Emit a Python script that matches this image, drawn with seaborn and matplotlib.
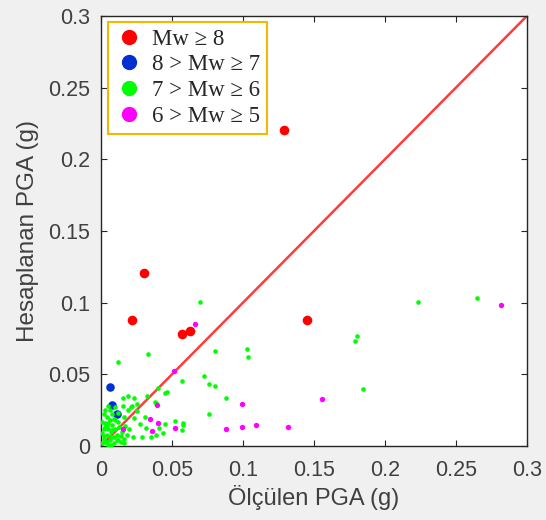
import matplotlib
matplotlib.use("Agg")
import matplotlib.pyplot as plt
import seaborn as sns
import pandas as pd
from matplotlib.lines import Line2D

# ---- data ----
red_x = [0.129, 0.030, 0.022, 0.145, 0.057, 0.0627]
red_y = [0.2205, 0.121, 0.088, 0.088, 0.078, 0.080]

blue_x = [0.0063, 0.0077, 0.011]
blue_y = [0.041, 0.0285, 0.022]

green_x = [0.223, 0.265, 0.180, 0.179, 0.103, 0.1035, 0.1845, 0.088, 0.057, 0.0725,
           0.076, 0.080, 0.076, 0.058, 0.057, 0.0697, 0.033, 0.012, 0.080,
           0.0465, 0.045, 0.040, 0.0324, 0.038, 0.039, 0.019, 0.023, 0.0155, 0.025,
           0.021, 0.052, 0.045, 0.058, 0.041, 0.035, 0.029, 0.0225, 0.016, 0.032,
           0.0275, 0.023, 0.031, 0.025, 0.019, 0.016, 0.005, 0.0155, 0.022, 0.039,
           0.044, 0.012, 0.010,
           0.001, 0.002, 0.003, 0.004, 0.005, 0.006, 0.007, 0.008, 0.009, 0.010,
           0.002, 0.003, 0.001, 0.004, 0.006, 0.008, 0.011, 0.013, 0.014, 0.012,
           0.002, 0.005, 0.009, 0.015, 0.017, 0.018, 0.020, 0.006, 0.003, 0.001,
           0.010, 0.007, 0.012, 0.004, 0.014, 0.016, 0.002, 0.004, 0.007, 0.009,
           0.011, 0.005, 0.008, 0.003]
green_y = [0.1005, 0.103, 0.077, 0.073, 0.068, 0.062, 0.040, 0.0335, 0.045, 0.049,
           0.043, 0.042, 0.022, 0.015, 0.011, 0.1005, 0.064, 0.0585, 0.066,
           0.038, 0.037, 0.0405, 0.035, 0.031, 0.030, 0.035, 0.0335, 0.0335, 0.029,
           0.027, 0.0175, 0.0155, 0.016, 0.0125, 0.0063, 0.0063, 0.0063, 0.005, 0.0125,
           0.0155, 0.0195, 0.020, 0.0245, 0.025, 0.020, 0.028, 0.028, 0.028, 0.008,
           0.009, 0.023, 0.018,
           0.002, 0.005, 0.003, 0.008, 0.012, 0.004, 0.010, 0.015, 0.006, 0.012,
           0.012, 0.016, 0.009, 0.020, 0.018, 0.022, 0.008, 0.013, 0.003, 0.017,
           0.022, 0.001, 0.002, 0.010, 0.014, 0.008, 0.012, 0.025, 0.025, 0.017,
           0.027, 0.001, 0.004, 0.014, 0.007, 0.002, 0.007, 0.003, 0.006, 0.019,
           0.004, 0.016, 0.011, 0.013]

mag_x = [0.2817, 0.1556, 0.0993, 0.088, 0.0993, 0.109, 0.1317, 0.066, 0.0514,
         0.0394, 0.0345, 0.040, 0.052, 0.0155, 0.036]
mag_y = [0.0985, 0.033, 0.0293, 0.012, 0.0133, 0.0147, 0.0133, 0.085, 0.052,
         0.0286, 0.019, 0.016, 0.0126, 0.012, 0.0105]

labels = ["Mw \u2265 8", "8 > Mw \u2265 7", "7 > Mw \u2265 6", "6 > Mw \u2265 5"]
colors = ["#ff0000", "#0030d0", "#00ff00", "#ff00ff"]
ticks = [0, 0.05, 0.1, 0.15, 0.2, 0.25, 0.3]
tick_labels = ["0", "0.05", "0.1", "0.15", "0.2", "0.25", "0.3"]

# ---- plot ----
sns.set_style("ticks")
plt.rcParams['font.family'] = ['Liberation Sans', 'DejaVu Sans']

fig = plt.figure(figsize=(5.46, 5.20), dpi=100, facecolor="#f0f0f0")
ax = fig.add_axes([0.185, 0.1423, 0.78, 0.827])
ax.set_facecolor("white")

groups = [(red_x, red_y, 48), (blue_x, blue_y, 38), (green_x, green_y, 11), (mag_x, mag_y, 15)]
for (gx, gy, s), c in zip(groups, colors):
    df = pd.DataFrame({"x": gx, "y": gy})
    sns.scatterplot(data=df, x="x", y="y", ax=ax, color=c, s=s, linewidth=0, zorder=3)

sns.lineplot(x=[0, 0.3], y=[0, 0.3], ax=ax, color="#ff3b3b", lw=1.8, zorder=2)

ax.set_xlim(0, 0.3)
ax.set_ylim(0, 0.3)
ax.set_xticks(ticks)
ax.set_xticklabels(tick_labels)
ax.set_yticks(ticks)
ax.set_yticklabels(tick_labels)
ax.tick_params(direction="in", top=True, right=True, length=4, width=0.8,
               labelsize=15.5, colors="#262626", labelcolor="#404040")
ax.tick_params(axis="x", pad=10)
ax.tick_params(axis="y", pad=8)
for sp in ax.spines.values():
    sp.set_color("#262626")
    sp.set_linewidth(1.0)
ax.set_xlabel("Ölçülen PGA (g)", fontsize=17, color="#404040", labelpad=3)
ax.set_ylabel("Hesaplanan PGA (g)", fontsize=17.5, color="#404040", labelpad=6)

handles = [Line2D([0], [0], marker="o", linestyle="none", markersize=10,
                  markerfacecolor=c, markeredgecolor=c) for c in colors]
leg = ax.legend(handles, labels, loc="upper left", bbox_to_anchor=(0.005, 0.997),
                prop={"family": "Liberation Serif", "size": 16.5},
                frameon=True, fancybox=False, borderpad=0.3, labelspacing=0.2,
                handletextpad=0.35, handlelength=1.3, borderaxespad=0.2)
leg.get_frame().set_edgecolor("#f5b800")
leg.get_frame().set_linewidth(1.5)
leg.get_frame().set_facecolor("white")
leg.get_frame().set_alpha(1)

fig.savefig("out.png", dpi=100, facecolor=fig.get_facecolor())
